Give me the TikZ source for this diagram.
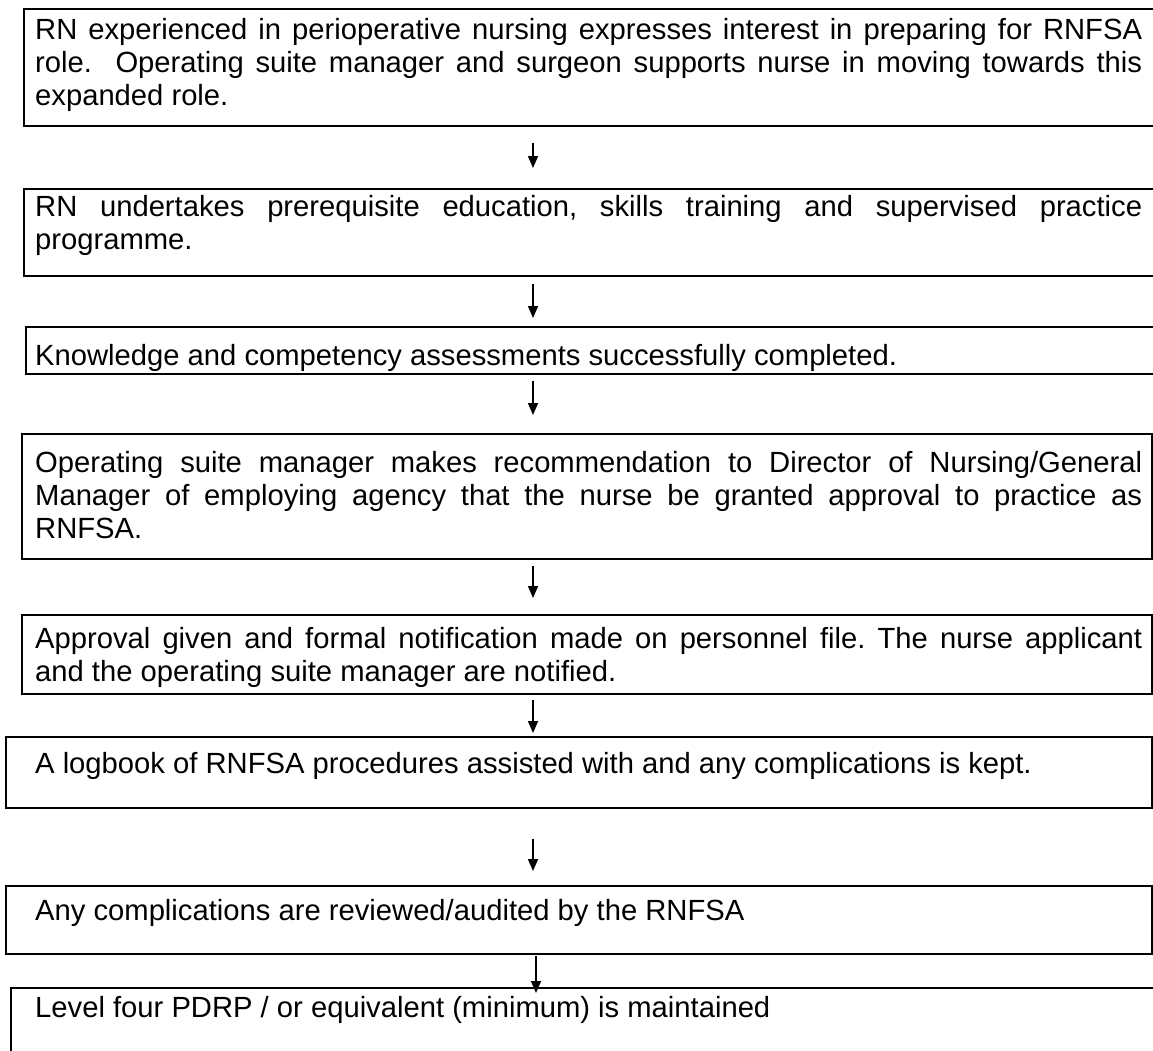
\documentclass[tikz,border=0pt]{standalone}
\usepackage{fontspec}
\setmainfont{Liberation Sans}
\usetikzlibrary{arrows.meta}
\hyphenpenalty=10000
\exhyphenpenalty=10000
\tolerance=10000
\frenchspacing

\tikzset{
  frame/.style={draw, line width=1.5pt, inner sep=0pt, outer sep=0pt, anchor=north west},
  txt/.style={anchor=north west, inner sep=0pt, text width=1107pt, align=justify,
    font=\fontsize{29.2pt}{33pt}\selectfont},
  flow/.style={line width=1.6pt, -{Triangle[width=10pt,length=12pt]}}
}

\begin{document}
\begin{tikzpicture}[x=1pt, y=-1pt]
  \useasboundingbox (0,0) rectangle (1153,1050);
  \coordinate (axis) at (533,0);
  % riquadri
  \node[frame, minimum width=1140pt, minimum height=117pt] (f1) at (24,9) {};
  \node[frame, minimum width=1140pt, minimum height=87pt] (f2) at (24,189) {};
  \node[frame, minimum width=1140pt, minimum height=47pt] (f3) at (26,327) {};
  \node[frame, minimum width=1130pt, minimum height=125pt] (f4) at (22,434) {};
  \node[frame, minimum width=1130pt, minimum height=79pt] (f5) at (22,615) {};
  \node[frame, minimum width=1146pt, minimum height=71pt] (f6) at (6,737) {};
  \node[frame, minimum width=1146pt, minimum height=68pt] (f7) at (6,886) {};
  \node[frame, minimum width=1150pt, minimum height=80pt] (f8) at (11,988) {};
  % testi
  \node[txt] (s1) at (35,18) {RN experienced in perioperative nursing expresses interest in preparing for RNFSA\linebreak
    role.\ \ Operating suite manager and surgeon supports nurse in moving towards this\linebreak
    expanded role.};
  \node[txt] (s2) at (35,195) {RN undertakes prerequisite education, skills training and supervised practice\linebreak
    programme.};
  \node[txt] (s3) at (35,344) {Knowledge and competency assessments successfully completed.};
  \node[txt] (s4) at (35,451) {Operating suite manager makes recommendation to Director of Nursing/General\linebreak
    Manager of employing agency that the nurse be granted approval to practice as\linebreak
    RNFSA.};
  \node[txt] (s5) at (35,627) {Approval given and formal notification made on personnel file. The nurse applicant\linebreak
    and the operating suite manager are notified.};
  \node[txt] (s6) at (35,752) {A logbook of RNFSA procedures assisted with and any complications is kept.};
  \node[txt] (s7) at (35,899) {Any complications are reviewed/audited by the RNFSA};
  \node[txt] (s8) at (35,996) {Level four PDRP / or equivalent (minimum) is maintained};
  % frecce
  \draw[flow] (f1.south -| axis) ++(0,17) -- ++(0,25);
  \draw[flow] (f2.south -| axis) ++(0,8) -- ++(0,34);
  \draw[flow] (f3.south -| axis) ++(0,7) -- ++(0,34);
  \draw[flow] (f4.south -| axis) ++(0,7) -- ++(0,32);
  \draw[flow] (f5.south -| axis) ++(0,6) -- ++(0,33);
  \draw[flow] (f6.south -| axis) ++(0,31) -- ++(0,32);
  \draw[flow] (f7.south -| axis) ++(3,2) -- ++(0,37);
\end{tikzpicture}
\end{document}
